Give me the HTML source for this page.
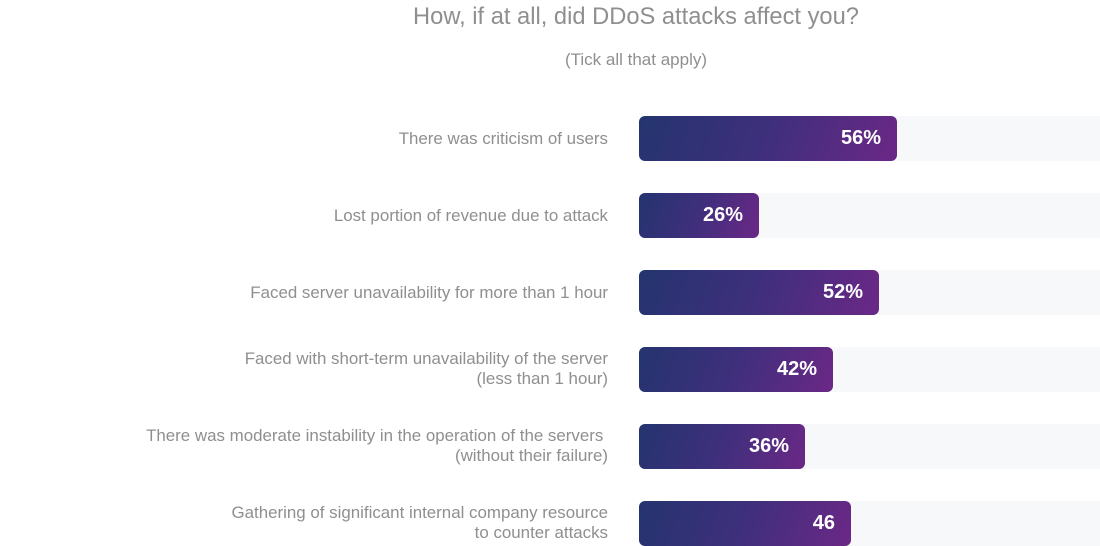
<!DOCTYPE html>
<html><head><meta charset="utf-8"><style>
body{margin:0;width:1100px;height:546px;background:#fff;overflow:hidden;font-family:"Liberation Sans",sans-serif;position:relative}
.t{position:absolute;left:0;width:1272px;text-align:center;color:#8f8f8f}
.lab{position:absolute;right:492px;text-align:right;color:#8f8f8f;font-size:16.9px;line-height:20px;white-space:nowrap}
.track{position:absolute;left:639px;width:470px;height:45px;background:#f7f8fa;border-radius:6px}
.bar{position:absolute;left:639px;height:45px;border-radius:6px;background:linear-gradient(110deg,#24346f 0%,#3f2f7c 50%,#6b2886 100%);color:#fff;font-weight:bold;font-size:20px;line-height:45px;text-align:right;box-sizing:border-box;padding-right:16px}
</style></head><body>
<div class="t" style="top:4px;font-size:23.7px">How, if at all, did DDoS attacks affect you?</div>
<div class="t" style="top:50px;font-size:17px">(Tick all that apply)</div>

<div class="track" style="top:116px"></div><div class="bar" style="top:116px;width:258px">56%</div>
<div class="lab" style="top:129px">There was criticism of users</div>

<div class="track" style="top:193px"></div><div class="bar" style="top:193px;width:120px">26%</div>
<div class="lab" style="top:206px">Lost portion of revenue due to attack</div>

<div class="track" style="top:270px"></div><div class="bar" style="top:270px;width:240px">52%</div>
<div class="lab" style="top:283px">Faced server unavailability for more than 1 hour</div>

<div class="track" style="top:347px"></div><div class="bar" style="top:347px;width:194px">42%</div>
<div class="lab" style="top:349px">Faced with short-term unavailability of the server<br>(less than 1 hour)</div>

<div class="track" style="top:424px"></div><div class="bar" style="top:424px;width:166px">36%</div>
<div class="lab" style="top:426px">There was moderate instability in the operation of the servers&nbsp;<br>(without their failure)</div>

<div class="track" style="top:501px"></div><div class="bar" style="top:501px;width:212px">46</div>
<div class="lab" style="top:503px">Gathering of significant internal company resource<br>to counter attacks</div>
</body></html>
